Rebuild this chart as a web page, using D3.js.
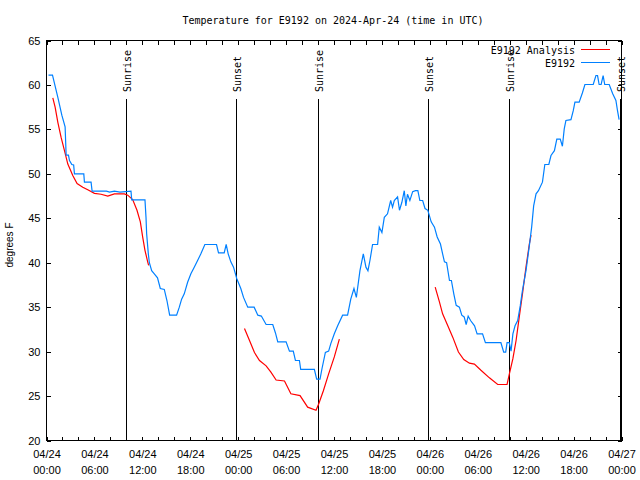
<!DOCTYPE html>
<html><head><meta charset="utf-8">
<script src="https://cdn.jsdelivr.net/npm/d3@7"></script>
<style>
body{margin:0;background:#fff;}
svg{display:block;}
.mono{font-family:"DejaVu Sans Mono","Liberation Mono",monospace;font-size:10px;fill:#000;}
.sans{font-family:"Liberation Sans",Arial,sans-serif;font-size:11px;fill:#000;}
</style></head>
<body>
<script>
// Observation series (hours since 2024-04-24 00:00 UTC, degrees F)
const obsHours = [0.25,0.75,1.42,1.92,2.33,2.46,2.75,2.88,3.17,3.4,3.5,4.67,4.75,5.58,5.71,7.5,7.9,8.5,9.2,10.58,10.67,12.33,12.46,12.54,12.75,12.88,13.17,13.5,13.9,14.25,14.75,15.08,15.42,16.29,16.63,16.92,17.25,17.67,18.08,18.5,18.92,19.33,19.83,21.29,21.54,22.25,22.5,22.75,23.08,23.42,23.83,24.33,24.67,25.2,26.0,26.46,26.9,27.5,28.33,28.67,28.96,30.0,30.42,30.9,31.17,31.67,31.83,33.54,33.83,34.25,34.5,34.92,35.33,35.6,36.04,36.46,37.08,37.7,38.1,38.5,38.8,38.95,39.25,39.67,40.0,40.25,40.5,40.83,41.46,41.67,42.0,42.3,42.7,43.1,43.33,43.55,43.96,44.2,44.5,44.8,45.0,45.2,45.5,45.85,46.2,46.5,46.75,47.1,47.4,47.75,48.17,48.58,48.92,49.33,49.6,49.83,50.1,50.46,50.7,51.0,51.3,51.7,52.0,52.3,52.55,52.8,53.1,53.6,53.92,54.6,54.96,56.9,57.25,57.5,57.67,57.95,58.17,58.4,58.67,59.0,59.33,59.6,60.04,60.46,60.75,61.0,61.3,61.6,62.1,62.4,62.9,63.17,63.6,63.9,64.33,64.6,64.83,65.04,65.67,65.96,66.17,66.7,67.1,67.42,68.46,68.8,69.0,69.2,69.45,69.7,69.9,70.46,70.9,71.3,71.5,71.7];
const obsTemps = [61.1,61.1,58.6,56.6,55.3,52.1,52.1,51.5,51.05,51.0,50,50,49.06,49.06,48.05,48.05,47.95,48.05,47.95,48.05,47.08,47.08,45.1,43.25,41,40,39.1,38.75,38.3,37.1,37,35.75,34.1,34.1,35,35.9,36.5,37.8,38.75,39.5,40.25,41,42.05,42.05,41.1,41.1,42.05,41,40.1,39.5,38.2,37.1,36.1,35,35,34.1,34.0,33.05,33.05,32.1,31.1,31.1,30.05,30.05,29,29,28,28,26.9,26.9,28.1,29.9,30.05,30.9,32,32.9,34.1,34.1,35.9,37.1,36.1,37.1,39.1,41,39.5,39.1,40.25,42.05,42.05,44,43.4,45.1,45.5,47,46.25,47,47.4,45.9,46.8,48.1,46.4,47.7,47,48,48.1,48.1,47,47,46.1,45.9,44.6,44,42.9,42.1,41,40.1,40.0,38,38,36.5,35.2,35,34.1,33.9,33.05,34,33.5,32.9,32,32,31,31,29.95,29.95,31,31,30.05,32,32.9,33.5,35.2,36.9,39.1,41.9,44,46.4,47.75,48.1,49.06,51.05,51.05,52.06,52.6,53.9,53.9,53.1,55.06,56,56.1,57.1,58.06,58.06,59.1,60.05,60.05,61.06,61.06,60.05,60.05,61.06,60.05,60.05,59,58.25,57.1,56.1];

// Analysis series, three runs (null separates runs)
const anaHours = [0.79,1.08,1.42,1.83,2.25,2.67,3.29,3.83,4.54,5.17,6.0,6.83,7.67,8.5,9.75,10.17,10.79,11.33,11.75,12.04,12.33,12.67,12.79,null,
  24.79,25.42,26.04,26.67,27.5,28.1,28.75,29.8,30.6,31.75,32.7,33.75,34.08,34.67,35.33,36.04,36.67,null,
  48.67,49.2,49.6,50.25,50.88,51.58,52.25,52.96,53.58,54.4,55.46,56.5,57.67,57.96,58.4,58.8,59.2,59.6,60.04,60.46,60.67];
const anaTemps = [58.55,57.5,55.8,54.1,52.6,51.1,49.8,48.9,48.5,48.2,47.8,47.7,47.5,47.75,47.75,47.6,47.1,45.9,44.6,42.9,41.4,40.1,39.7,null,
  32.6,31.25,29.9,29,28.4,27.7,26.8,26.7,25.25,25.05,23.75,23.4,24.1,25.6,27.5,29.4,31.4,null,
  37.25,35.6,34.25,32.9,31.6,29.95,29.1,28.7,28.6,27.9,27.05,26.3,26.3,27.5,29.2,31.25,33.9,36.5,39.5,42.1,43.1];

const sunHours  = [10.05,23.83,34.03,47.85,58.0,71.87];
const sunLabels = ["Sunrise","Sunset","Sunrise","Sunset","Sunrise","Sunset"];

const yTicks = [20,25,30,35,40,45,50,55,60,65];
const xMajorTicks = [0,6,12,18,24,30,36,42,48,54,60,66,72];
const xMinorTicks = d3.range(0,73,2);
const seriesNames = ["E9192 Analysis","E9192"];
const seriesColors = ["#ff0000","#0080ff"];
const titleText = "Temperature for E9192 on 2024-Apr-24 (time in UTC)";
const yTitle = "degrees F";
const t0 = Date.UTC(2024,3,24);

const W=640,H=480;
const L=46,R=621,T=40,B=440;
const svg=d3.select("body").append("svg").attr("width",W).attr("height",H);
const x=d3.scaleLinear().domain([0,72]).range([L+0.5,R+0.5]);
const y=d3.scaleLinear().domain([20,65]).range([B+0.5,T+0.5]);

// title
svg.append("text").attr("class","mono").attr("x",333).attr("y",24).attr("text-anchor","middle").text(titleText);

// axes ticks
const gB=svg.append("g").attr("transform",`translate(0,${B+0.5})`)
  .call(d3.axisBottom(x).tickValues(xMinorTicks).tickSize(-4).tickFormat(""));
const gT=svg.append("g").attr("transform",`translate(0,${T+0.5})`)
  .call(d3.axisTop(x).tickValues(xMinorTicks).tickSize(-4).tickFormat(""));
const gL=svg.append("g").attr("transform",`translate(${L+0.5},0)`)
  .call(d3.axisLeft(y).tickValues(yTicks).tickSize(-4).tickPadding(6).tickFormat(d3.format("d")));
const gR=svg.append("g").attr("transform",`translate(${R+0.5},0)`)
  .call(d3.axisRight(y).tickValues(yTicks).tickSize(-4).tickFormat(""));
[gB,gT,gL,gR].forEach(g=>{g.select(".domain").remove();g.selectAll("line").attr("stroke","#000").attr("shape-rendering","crispEdges");});
gL.selectAll("text").attr("class","sans").attr("font-family",null).attr("font-size",null).attr("fill",null).attr("x",-6);

// bottom labels (two lines)
const gLab=svg.append("g").attr("transform",`translate(0,${B+0.5})`)
  .call(d3.axisBottom(x).tickValues(xMajorTicks).tickSize(0).tickPadding(0).tickFormat(""));
gLab.select(".domain").remove();
gLab.selectAll(".tick").each(function(d){
  const dt=new Date(t0+d*3600e3);
  const t=d3.select(this).append("text").attr("class","sans").attr("text-anchor","middle");
  t.append("tspan").attr("x",0).attr("y",17).text(d3.utcFormat("%m/%d")(dt));
  t.append("tspan").attr("x",0).attr("y",33).text(d3.utcFormat("%H:%M")(dt));
});

// frame
svg.append("rect").attr("x",L+0.5).attr("y",T+0.5).attr("width",R-L).attr("height",B-T)
  .attr("fill","none").attr("stroke","#000").attr("shape-rendering","crispEdges");

// y title
svg.append("text").attr("class","sans").style("font-size","10px")
  .attr("transform","translate(13,245) rotate(-90)").attr("text-anchor","middle").text(yTitle);

// sunrise/sunset
sunHours.forEach((h,i)=>{
  const xx=Math.round(x(h)-0.5)+0.5;
  svg.append("line").attr("x1",xx).attr("x2",xx).attr("y1",99).attr("y2",B+0.5)
    .attr("stroke","#000").attr("shape-rendering","crispEdges");
  svg.append("text").attr("class","mono")
    .attr("transform",`translate(${xx+4},92) rotate(-90)`).text(sunLabels[i]);
});

// data lines
const anaData=anaHours.map((h,i)=>({h,v:anaTemps[i]}));
const obsData=obsHours.map((h,i)=>({h,v:obsTemps[i]}));
const line=d3.line().defined(d=>d.h!==null).x(d=>x(d.h)).y(d=>y(d.v));
svg.append("path").datum(anaData).attr("d",line).attr("fill","none").attr("stroke",seriesColors[0]).attr("stroke-width",1.2);
svg.append("path").datum(obsData).attr("d",line).attr("fill","none").attr("stroke",seriesColors[1]).attr("stroke-width",1.2);

// legend
seriesNames.forEach((n,i)=>{
  const yy=50+i*13;
  svg.append("text").attr("class","mono").attr("x",575).attr("y",yy+4).attr("text-anchor","end").text(n);
  svg.append("line").attr("x1",581).attr("x2",610).attr("y1",yy-0.5).attr("y2",yy-0.5)
    .attr("stroke",seriesColors[i]).attr("shape-rendering","crispEdges");
});
</script>
</body></html>
